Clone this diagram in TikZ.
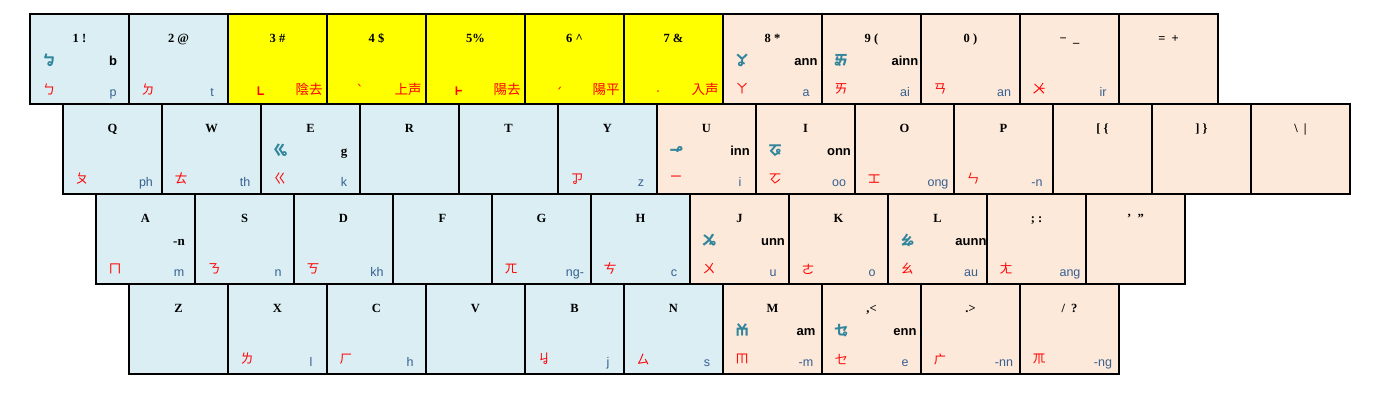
\documentclass[tikz,border=0pt]{standalone}
\usepackage{fontspec}
\setmainfont{Liberation Serif}
\setsansfont{Liberation Sans}
\newfontfamily\cjk{Noto Sans CJK TC}
\newfontfamily\djv{DejaVu Sans}
\newfontfamily\notos{Noto Sans}
\definecolor{kblue}{HTML}{DAEEF3}
\definecolor{kpeach}{HTML}{FDE9D9}
\definecolor{kyellow}{HTML}{FFFF00}
\definecolor{midblue}{HTML}{31859C}
\definecolor{labblue}{HTML}{366092}
\tikzset{
 keybox/.style={draw=black, line width=2pt, minimum width=99pt, minimum height=90pt, inner sep=0pt, outer sep=0pt},
 toplab/.style={anchor=base, inner sep=0pt, font=\rmfamily\bfseries\fontsize{12.5}{14}\selectfont},
 midglyph/.style={anchor=center, inner sep=0pt, text=midblue, font=\cjk\bfseries\fontsize{14}{14}\selectfont},
 midlab/.style={anchor=base, inner sep=0pt, font=\sffamily\bfseries\fontsize{13}{14}\selectfont},
 botglyph/.style={anchor=center, inner sep=0pt, text=red, font=\cjk\fontsize{13}{14}\selectfont},
 botlab/.style={anchor=base, inner sep=0pt, text=labblue, font=\sffamily\fontsize{12.5}{14}\selectfont},
 tonemark/.style={anchor=base, inner sep=0pt, text=red, font=\djv\fontsize{14}{14}\selectfont},
 bigtone/.style={anchor=base, inner sep=0pt, text=red, font=\notos\fontsize{24}{24}\selectfont},
 tonename/.style={anchor=center, inner sep=0pt, text=red, font=\cjk\fontsize{13.5}{14}\selectfont},
}
% x, y, fill, name, top label, mid glyph, mid label, bottom glyph, bottom label
\newcommand\kk[9]{%
 \node[keybox,fill=#3] (#4) at (#1+49.5,#2+45) {};
 \node[toplab] (#4-t) at (#1+49.5,#2+28) {#5};
 \node[midglyph] (#4-m) at (#1+19,#2+46.5) {#6};
 \node[midlab] (#4-ml) at (#1+83,#2+51) {#7};
 \node[botglyph] (#4-b) at (#1+19,#2+75) {#8};
 \node[botlab] (#4-bl) at (#1+83,#2+82) {#9};
}
\begin{document}
\begin{tikzpicture}[x=1pt,y=-1pt]
\fill[white] (0,0) rectangle (1377,402);
\useasboundingbox (0,0) rectangle (1377,402);
% Row 1
\kk{30}{14}{kblue}{k1}{1 !}{ㆠ}{b}{ㄅ}{p}
\kk{129}{14}{kblue}{k2}{2 @}{}{}{ㄉ}{t}
\kk{228}{14}{kyellow}{k3}{3 \#}{}{}{}{}
\kk{327}{14}{kyellow}{k4}{4 \$}{}{}{}{}
\kk{426}{14}{kyellow}{k5}{5\%}{}{}{}{}
\kk{525}{14}{kyellow}{k6}{6 \textasciicircum}{}{}{}{}
\kk{624}{14}{kyellow}{k7}{7 \&}{}{}{}{}
\kk{723}{14}{kpeach}{k8}{8 *}{ㆩ}{ann}{ㄚ}{a}
\kk{822}{14}{kpeach}{k9}{9 (}{ㆮ}{ainn}{ㄞ}{ai}
\kk{921}{14}{kpeach}{k0}{0 )}{}{}{ㄢ}{an}
\kk{1020}{14}{kpeach}{kminus}{−\ \ \_}{}{}{ㆨ}{ir}
\kk{1119}{14}{kpeach}{kequal}{=\ \ +}{}{}{}{}
% tone marks
\node[bigtone] (k3-tm) at (228+33,14+85) {˪};
\node[tonename] (k3-tn) at (228+81,14+75.5) {陰去};
\node[tonemark] (k4-tm) at (327+33,14+81) {ˋ};
\node[tonename] (k4-tn) at (327+81,14+75.5) {上声};
\node[bigtone] (k5-tm) at (426+33,14+85) {˫};
\node[tonename] (k5-tn) at (426+81,14+75.5) {陽去};
\node[tonemark] (k6-tm) at (525+34,14+84.5) {ˊ};
\node[tonename] (k6-tn) at (525+81,14+75.5) {陽平};
\node[tonemark] (k7-tm) at (624+34,14+87.8) {˙};
\node[tonename] (k7-tn) at (624+81,14+75.5) {入声};
% Row 2
\kk{63}{104}{kblue}{kq}{Q}{}{}{ㄆ}{ph}
\kk{162}{104}{kblue}{kw}{W}{}{}{ㄊ}{th}
\kk{261}{104}{kblue}{ke}{E}{ㆣ}{\rmfamily\bfseries g}{ㄍ}{k}
\kk{360}{104}{kblue}{kr}{R}{}{}{}{}
\kk{459}{104}{kblue}{kt}{T}{}{}{}{}
\kk{558}{104}{kblue}{ky}{Y}{}{}{ㆡ}{z}
\kk{657}{104}{kpeach}{ku}{U}{ㆪ}{inn}{ㄧ}{i}
\kk{756}{104}{kpeach}{ki}{I}{ㆧ}{onn}{ㆦ}{oo}
\kk{855}{104}{kpeach}{ko}{O}{}{}{ㆲ}{ong}
\kk{954}{104}{kpeach}{kp}{P}{}{}{ㄣ}{-n}
\kk{1053}{104}{kpeach}{klb}{[ \{}{}{}{}{}
\kk{1152}{104}{kpeach}{krb}{] \}}{}{}{}{}
\kk{1251}{104}{kpeach}{kbs}{\textbackslash\ \ |}{}{}{}{}
% Row 3
\kk{96}{194}{kblue}{ka}{A}{}{\rmfamily\bfseries -n}{ㄇ}{m}
\kk{195}{194}{kblue}{ks}{S}{}{}{ㄋ}{n}
\kk{294}{194}{kblue}{kd}{D}{}{}{ㄎ}{kh}
\kk{393}{194}{kblue}{kf}{F}{}{}{}{}
\kk{492}{194}{kblue}{kg}{G}{}{}{ㄫ}{ng-}
\kk{591}{194}{kblue}{kh}{H}{}{}{ㄘ}{c}
\kk{690}{194}{kpeach}{kj}{J}{ㆫ}{unn}{ㄨ}{u}
\kk{789}{194}{kpeach}{kk}{K}{}{}{ㄜ}{o}
\kk{888}{194}{kpeach}{kl}{L}{ㆯ}{aunn}{ㄠ}{au}
\kk{987}{194}{kpeach}{ksemi}{; :}{}{}{ㄤ}{ang}
\kk{1086}{194}{kpeach}{kquote}{’\ \ ”}{}{}{}{}
% Row 4
\kk{129}{284}{kblue}{kz}{Z}{}{}{}{}
\kk{228}{284}{kblue}{kx}{X}{}{}{ㄌ}{l}
\kk{327}{284}{kblue}{kc}{C}{}{}{ㄏ}{h}
\kk{426}{284}{kblue}{kv}{V}{}{}{}{}
\kk{525}{284}{kblue}{kb}{B}{}{}{ㆢ}{j}
\kk{624}{284}{kblue}{kn}{N}{}{}{ㄙ}{s}
\kk{723}{284}{kpeach}{km}{M}{ㆰ}{am}{ㆬ}{-m}
\kk{822}{284}{kpeach}{kcomma}{,<}{ㆥ}{enn}{ㆤ}{e}
\kk{921}{284}{kpeach}{kperiod}{.>}{}{}{ㄬ}{-nn}
\kk{1020}{284}{kpeach}{kslash}{/\ \ ?}{}{}{ㆭ}{-ng}
\end{tikzpicture}
\end{document}
